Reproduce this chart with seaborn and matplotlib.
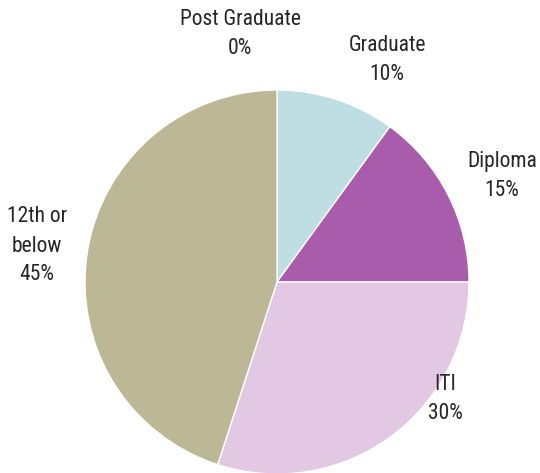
import matplotlib
matplotlib.use("Agg")
import matplotlib.pyplot as plt
import seaborn as sns

sns.set_theme(style="white")
plt.rcParams["font.family"] = ["Roboto Condensed", "DejaVu Sans"]

categories = ["Post Graduate", "Graduate", "Diploma", "ITI", "12th or\nbelow"]
shares = [0, 10, 15, 30, 45]
colors = ["#c9c9c9", "#bfdee3", "#a95cab", "#e3c8e3", "#bcb794"]
label_px = [(240, 34), (387, 60), (502, 176), (445, 399), (37, 246)]

W, H = 540, 473
cx, cy, r = 277, 282, 192

fig = plt.figure(figsize=(W / 100, H / 100), dpi=100)
ax = fig.add_axes([0, 0, 1, 1])
ax.pie(shares, colors=colors, startangle=90, counterclock=False,
       radius=1, center=(0, 0),
       wedgeprops=dict(edgecolor="white", linewidth=1))
ax.set_xlim(-cx / r, (W - cx) / r)
ax.set_ylim(-(H - cy) / r, cy / r)
ax.set_aspect("equal")
ax.axis("off")

for name, val, (px, py) in zip(categories, shares, label_px):
    ax.text((px - cx) / r, (cy - py) / r, f"{name}\n{val}%",
            ha="center", va="center", fontsize=15.5, color="#262626",
            linespacing=1.5)

fig.savefig("out.png", dpi=100)
